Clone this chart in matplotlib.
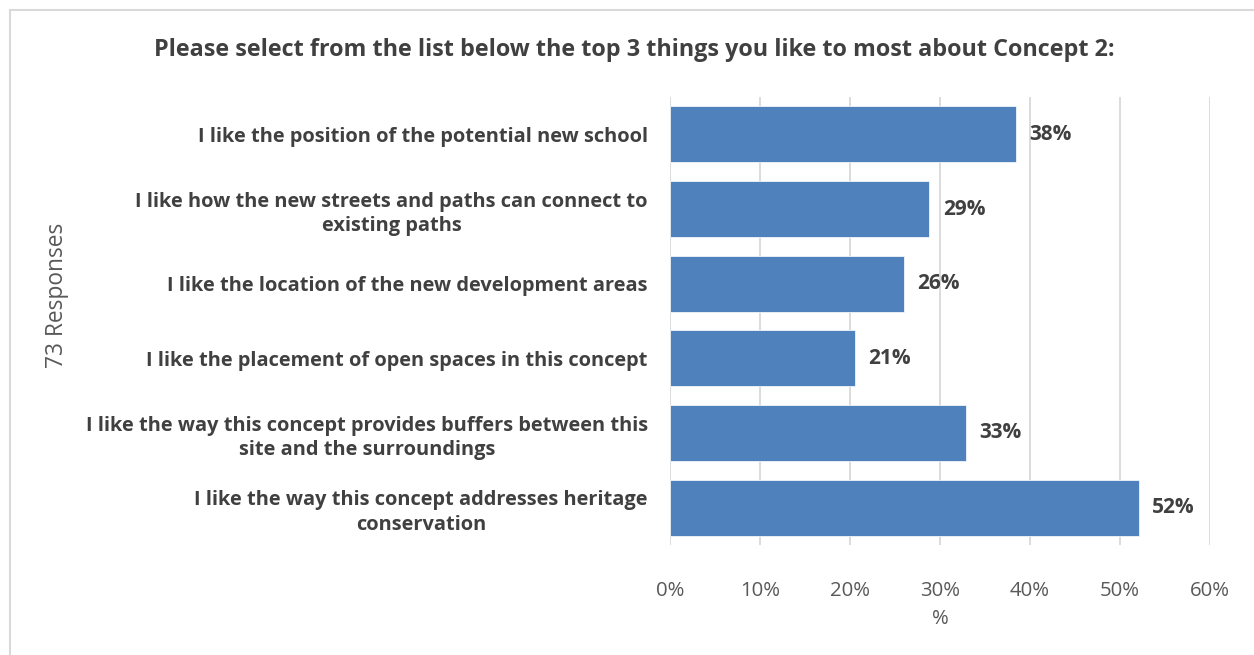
import matplotlib
matplotlib.use("Agg")
import matplotlib.pyplot as plt
from matplotlib.patches import Rectangle
from matplotlib.ticker import PercentFormatter

plt.rcParams['font.family'] = ['Open Sans', 'DejaVu Sans']

categories = [
    "I like the position of the potential new school",
    "I like how the new streets and paths can connect to\nexisting paths",
    "I like the location of the new development areas",
    "I like the placement of open spaces in this concept",
    "I like the way this concept provides buffers between this\nsite and the surroundings",
    "I like the way this concept addresses heritage\nconservation",
]
values = [38.4, 28.8, 26.0, 20.5, 32.9, 52.1]
value_labels = ["38%", "29%", "26%", "21%", "33%", "52%"]

bar_color = "#4F81BD"
dark = "#404040"
grey = "#595959"

fig = plt.figure(figsize=(12.54, 6.55), dpi=100)
ax = fig.add_axes([670 / 1254, 1 - 545 / 655, 540 / 1254, 448 / 655])

# chart border
fig.patches.append(Rectangle((10 / 1254, -0.01), 1.02, 1 - 10 / 655 + 0.01,
                             transform=fig.transFigure, fill=False,
                             edgecolor="#D9D9D9", linewidth=1.5))

ypos = list(range(len(categories)))[::-1]
ax.barh(ypos, values, height=0.75, color=bar_color, edgecolor="white", linewidth=0.5, zorder=3)

for y, v, lab in zip(ypos, values, value_labels):
    ax.text(v + 1.5, y, lab, va="center", ha="left", fontsize=15,
            fontweight="bold", color=dark)

ax.set_xlim(0, 60)
ax.set_ylim(-0.5, 5.5)
ax.set_xticks([0, 10, 20, 30, 40, 50, 60])
ax.xaxis.set_major_formatter(PercentFormatter(decimals=0))
ax.set_yticks(ypos)
ax.set_yticklabels(categories, fontsize=14.4, fontweight="bold", color=dark,
                   multialignment="center", linespacing=1.3)
ax.tick_params(axis="y", length=0, pad=16)
ax.tick_params(axis="x", length=0, pad=26, labelsize=14.7, labelcolor=grey)
ax.grid(axis="x", color="#D9D9D9", linewidth=1.3, zorder=0)
for s in ax.spines.values():
    s.set_visible(False)

ax.set_xlabel("%", fontsize=14.7, color=grey, labelpad=6)
fig.text(57 / 1254, 1 - 295 / 655, "73 Responses", rotation=90, va="center",
         ha="center", fontsize=16.4, color=grey)
fig.text(634 / 1254, 1 - 50 / 655,
         "Please select from the list below the top 3 things you like to most about Concept 2:",
         ha="center", va="center", fontsize=16.8, fontweight="bold", color=dark)

fig.savefig("out.png", dpi=100)
